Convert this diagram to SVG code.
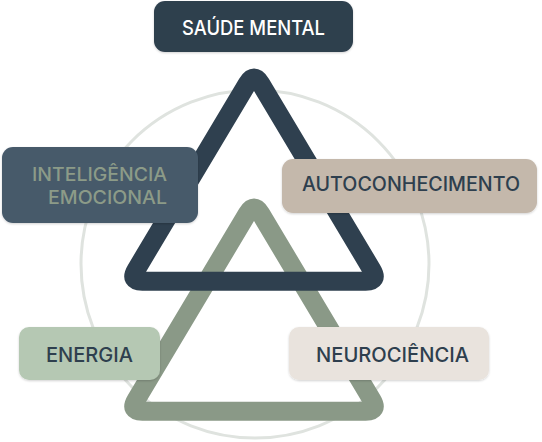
<svg xmlns="http://www.w3.org/2000/svg" width="542" height="442" viewBox="0 0 542 442">
  <defs>
    <style>
      .ring { fill: none; stroke: #dfe3df; stroke-width: 3; }
      .tri { fill: none; stroke-width: 19; stroke-linejoin: round; }
      .dark { stroke: #2f404f; }
      .green { stroke: #8a9987; }
      .lbl { font-family: Inter, "Noto Sans", "Liberation Sans", sans-serif; font-weight: 500; }
      .box { filter: url(#sh); }
    </style>
    <filter id="sh" x="-10%" y="-20%" width="120%" height="150%">
      <feDropShadow dx="0" dy="1" stdDeviation="1.2" flood-color="#000" flood-opacity="0.18"/>
    </filter>
    <path id="triPath" d="M 247.33 83.66 Q 254 72.5 260.67 83.66 L 372.03 270.04 Q 378.7 281.2 365.7 281.2 L 142.3 281.2 Q 129.3 281.2 135.97 270.04 Z"/>
  </defs>

  <g id="background">
    <circle class="ring" cx="255" cy="264" r="174"/>
  </g>

  <g id="connectors">
    <use href="#triPath" class="tri green" transform="translate(0,130)"/>
    <use href="#triPath" class="tri dark"/>
  </g>

  <g id="node-saude-mental">
    <rect class="box" x="154" y="1" width="199" height="51" rx="11" fill="#2e3f4e"/>
    <text class="lbl" x="182" y="35" font-size="20.5" font-weight="600" fill="#ffffff" textLength="143" lengthAdjust="spacingAndGlyphs">SAÚDE MENTAL</text>
  </g>

  <g id="node-inteligencia-emocional">
    <rect class="box" x="2" y="147" width="196" height="76" rx="11" fill="#465a6b"/>
    <text class="lbl" x="32" y="181" font-size="18.5" fill="#8c9b88" textLength="135" lengthAdjust="spacingAndGlyphs">INTELIGÊNCIA</text>
    <text class="lbl" x="48" y="204" font-size="18.5" fill="#8c9b88" textLength="119" lengthAdjust="spacingAndGlyphs">EMOCIONAL</text>
  </g>

  <g id="node-autoconhecimento">
    <rect class="box" x="282" y="159" width="255" height="54" rx="11" fill="#c4b8ab"/>
    <text class="lbl" x="302" y="191" font-size="19.5" fill="#2e3f4e" textLength="218" lengthAdjust="spacingAndGlyphs">AUTOCONHECIMENTO</text>
  </g>

  <g id="node-energia">
    <rect class="box" x="19" y="327" width="141" height="53" rx="10" fill="#b5c8b3"/>
    <text class="lbl" x="46" y="362" font-size="20" fill="#2e3f4e" textLength="87" lengthAdjust="spacingAndGlyphs">ENERGIA</text>
  </g>

  <g id="node-neurociencia">
    <rect class="box" x="289" y="327" width="200" height="53" rx="10" fill="#e9e3dd"/>
    <text class="lbl" x="316" y="362" font-size="20" fill="#2e3f4e" textLength="153" lengthAdjust="spacingAndGlyphs">NEUROCIÊNCIA</text>
  </g>
</svg>
